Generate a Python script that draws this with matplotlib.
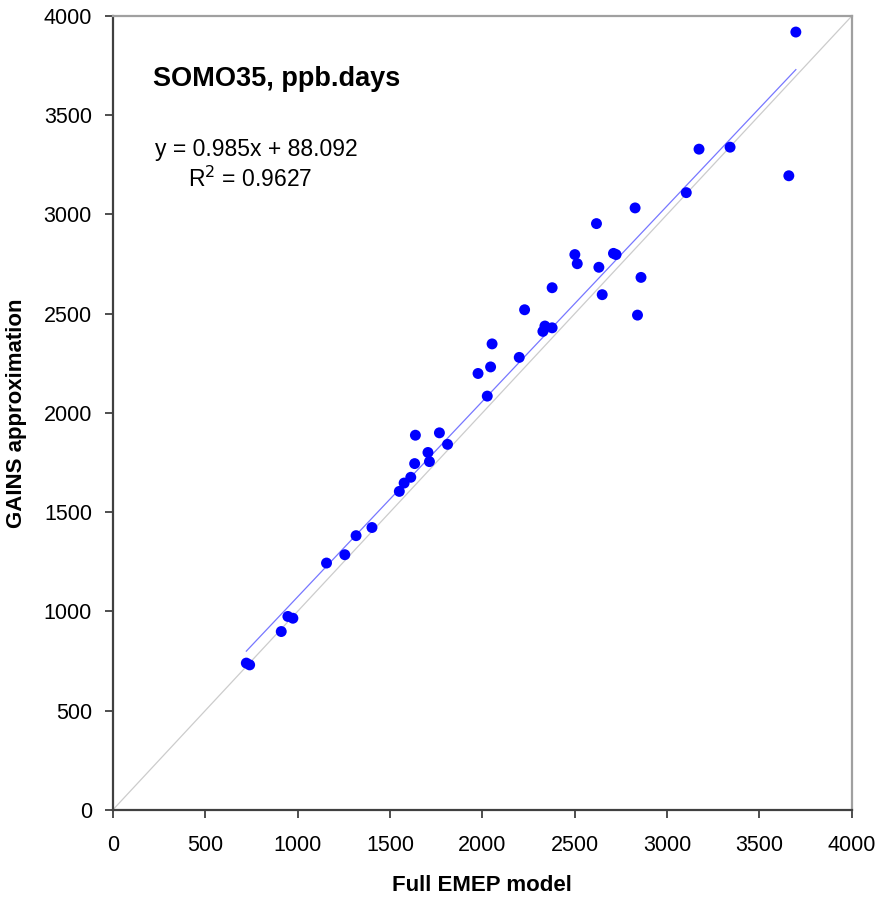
import matplotlib
matplotlib.use("Agg")
import matplotlib.pyplot as plt
import numpy as np

plt.rcParams['font.family'] = ['Liberation Sans', 'DejaVu Sans']

# Data
full_emep = [3697, 3173, 3341, 3659, 3104, 2827, 2618, 2501, 2514, 2710,
             2724, 2631, 2859, 2649, 2840, 2378, 2229, 2339, 2328, 2378,
             2053, 2045, 1977, 2200, 2027, 1638, 1768, 1812, 1706, 1714,
             1634, 1613, 1577, 1551, 1317, 1403, 1157, 1256, 948, 975,
             912, 723, 741]
gains_approx = [3919, 3329, 3339, 3195, 3110, 3033, 2954, 2798, 2752, 2804,
                2798, 2734, 2683, 2596, 2493, 2631, 2520, 2438, 2411, 2429,
                2348, 2232, 2199, 2280, 2085, 1888, 1900, 1842, 1801, 1755,
                1745, 1676, 1647, 1605, 1382, 1423, 1244, 1286, 975, 966,
                899, 740, 731]
slope = 0.985
intercept = 88.092
r2 = 0.9627
ticks = [0, 500, 1000, 1500, 2000, 2500, 3000, 3500, 4000]

fig = plt.figure(figsize=(8.8, 8.97), dpi=100)
ax = fig.add_axes([0.1281, 0.0970, 0.8399, 0.8852])

# 1:1 line
ax.plot([0, 4000], [0, 4000], color='#cccccc', lw=0.9, zorder=1)
# trend line
xs = np.array([min(full_emep), max(full_emep)])
ax.plot(xs, slope * xs + intercept, color='#7777ff', lw=0.9, zorder=2)
# points
ax.scatter(full_emep, gains_approx, s=62, color='#0000ff', edgecolors='none', zorder=3)

ax.set_xlim(0, 4000)
ax.set_ylim(0, 4000)
ax.set_xticks(ticks)
ax.set_yticks(ticks)
ax.tick_params(direction='out', length=6, width=1.3, color='#404040',
               labelsize=15.5)
ax.tick_params(axis='x', pad=12)
ax.tick_params(axis='y', pad=9)

for s in ['left', 'bottom']:
    ax.spines[s].set_color('#404040')
    ax.spines[s].set_linewidth(1.6)
for s in ['top', 'right']:
    ax.spines[s].set_color('#a0a0a0')
    ax.spines[s].set_linewidth(1.6)

ax.set_xlabel('Full EMEP model', fontsize=16, fontweight='bold', labelpad=14)
ax.set_ylabel('GAINS approximation', fontsize=16, fontweight='bold', labelpad=12)

ax.text(0.055, 0.921, 'SOMO35, ppb.days', transform=ax.transAxes,
        fontsize=19.5, fontweight='bold', va='center', ha='left')
ax.text(0.057, 0.832, 'y = 0.985x + 88.092', transform=ax.transAxes,
        fontsize=16.5, va='center', ha='left')
ax.text(0.102, 0.794, r'R$^2$ = 0.9627', transform=ax.transAxes,
        fontsize=16.5, va='center', ha='left')

fig.savefig('out.png', dpi=100)
